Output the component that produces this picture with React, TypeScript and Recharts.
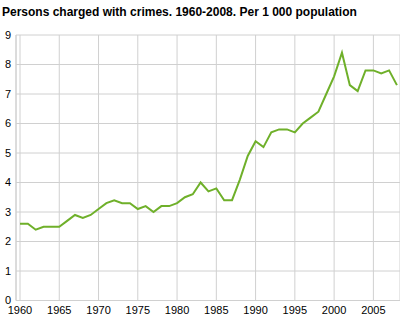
import React from 'react';
import { LineChart, Line, XAxis, YAxis, CartesianGrid } from 'recharts';

const years = [
  1960, 1961, 1962, 1963, 1964, 1965, 1966, 1967, 1968, 1969,
  1970, 1971, 1972, 1973, 1974, 1975, 1976, 1977, 1978, 1979,
  1980, 1981, 1982, 1983, 1984, 1985, 1986, 1987, 1988, 1989,
  1990, 1991, 1992, 1993, 1994, 1995, 1996, 1997, 1998, 1999,
  2000, 2001, 2002, 2003, 2004, 2005, 2006, 2007, 2008,
];
const charged = [
  2.6, 2.6, 2.4, 2.5, 2.5, 2.5, 2.7, 2.9, 2.8, 2.9,
  3.1, 3.3, 3.4, 3.3, 3.3, 3.1, 3.2, 3.0, 3.2, 3.2,
  3.3, 3.5, 3.6, 4.0, 3.7, 3.8, 3.4, 3.4, 4.1, 4.9,
  5.4, 5.2, 5.7, 5.8, 5.8, 5.7, 6.0, 6.2, 6.4, 7.0,
  7.6, 8.4, 7.3, 7.1, 7.8, 7.8, 7.7, 7.8, 7.3,
];
const xTicks = [1960, 1965, 1970, 1975, 1980, 1985, 1990, 1995, 2000, 2005];
const minorTicks = years;
const yTicks = [0, 1, 2, 3, 4, 5, 6, 7, 8, 9];
const title = 'Persons charged with crimes. 1960-2008. Per 1 000 population';

const data = years.map((y, i) => ({ year: y, value: charged[i] }));

const font = '"Liberation Sans", Arial, sans-serif';

const NoLabel = () => <g />;

export default function App() {
  return (
    <div style={{ position: 'absolute', left: 0, top: 0, width: 400, height: 320, background: '#fff' }}>
      <div
        style={{
          position: 'absolute',
          left: 2,
          top: 5,
          fontFamily: font,
          fontWeight: 'bold',
          fontSize: 12,
          lineHeight: '14px',
          color: '#000',
          whiteSpace: 'nowrap',
        }}
      >
        {title}
      </div>
      <LineChart
        width={400}
        height={320}
        data={data}
        margin={{ top: 35, right: 0, bottom: 0, left: 0 }}
        style={{ fontFamily: font }}
      >
        <CartesianGrid stroke="#d0d0d0" strokeWidth={1} />
        <XAxis
          dataKey="year"
          type="number"
          domain={[1959.49, 2008.39]}
          ticks={xTicks}
          allowDataOverflow
          height={19.5}
          tickLine={false}
          axisLine={false}
          tickSize={6}
          tickMargin={0}
          tick={{ fontSize: 11, fill: '#000' }}
          interval={0}
        />
        <XAxis
          xAxisId="minor"
          dataKey="year"
          type="number"
          domain={[1959.49, 2008.39]}
          ticks={minorTicks}
          allowDataOverflow
          mirror
          height={0}
          tick={<NoLabel />}
          tickLine={{ stroke: '#b8b8b8', strokeWidth: 1 }}
          tickSize={5}
          axisLine={false}
          interval={0}
        />
        <YAxis
          type="number"
          domain={[0, 9]}
          ticks={yTicks}
          width={16}
          tickLine={false}
          axisLine={{ stroke: '#d0d0d0' }}
          tickSize={5}
          tickMargin={0}
          tick={{ fontSize: 11, fill: '#000' }}
          interval={0}
        />
        <Line
          type="linear"
          dataKey="value"
          stroke="#6fb02a"
          strokeWidth={2}
          dot={false}
          isAnimationActive={false}
        />
      </LineChart>
    </div>
  );
}
